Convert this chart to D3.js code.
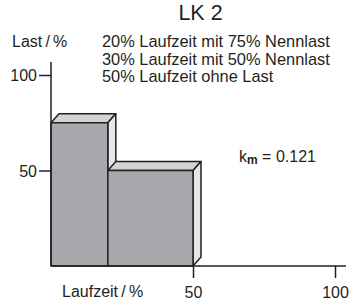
<!DOCTYPE html>
<html lang="de">
    <head>
        <meta charset="utf-8">
        <title>LK 2</title>
        <script src="https://d3js.org/d3.v7.min.js"></script>
        <style type="text/css">
        body { margin: 0; background: #fff; }
        text { font-family: "Liberation Sans", Arial, sans-serif; fill: #231f20; }
        </style>
    </head>
    <body>
        <svg width="349" height="302"></svg>

    <script type="text/javascript">

            // Laufzeit-Anteile (in %) und zugehoerige Last (in % Nennlast)
            const runShares = [20, 30];
            const loads = [75, 50];
            const legendLines = ["20% Laufzeit mit 75% Nennlast",
                                 "30% Laufzeit mit 50% Nennlast",
                                 "50% Laufzeit ohne Last"];
            const xTicks = [50, 100];
            const yTicks = [50, 100];
            const kmValue = "0.121";

            const svg = d3.select("svg");
            const ink = "#231f20";

            const xScale = d3.scaleLinear().domain([0, 100]).range([51, 335]);
            const yScale = d3.scaleLinear().domain([0, 100]).range([266, 75]);

            // cumulative start/end of each block
            let acc = 0;
            const blocks = runShares.map((s, i) => {
                const b = { x0: acc, x1: acc + s, load: loads[i] };
                acc += s;
                return b;
            });

            const dx = 8, dy = -9;

            //Drawing the 3d blocks
            const g = svg.append("g")
                         .attr("stroke", ink)
                         .attr("stroke-width", 1.5)
                         .attr("stroke-linejoin", "round");

            blocks.forEach(b => {
                const l = xScale(b.x0), r = xScale(b.x1);
                const t = yScale(b.load), bt = yScale(0);
                // top face
                g.append("path")
                 .attr("fill", "#d3d4d6")
                 .attr("d", `M${l},${t}L${l + dx},${t + dy}L${r + dx},${t + dy}L${r},${t}Z`);
                // side face
                g.append("path")
                 .attr("fill", "#e5e6e7")
                 .attr("d", `M${r},${t}L${r + dx},${t + dy}L${r + dx},${bt + dy}L${r},${bt}Z`);
                // front face
                g.append("rect")
                 .attr("fill", "#a7a8ab")
                 .attr("x", l)
                 .attr("y", t)
                 .attr("width", r - l)
                 .attr("height", bt - t);
            });

            //Axes
            const bottomAxis = d3.axisBottom(xScale)
                                 .tickValues(xTicks)
                                 .tickSize(12)
                                 .tickSizeOuter(0)
                                 .tickPadding(9);
            const leftAxis = d3.axisLeft(yScale)
                               .tickValues(yTicks)
                               .tickSize(12)
                               .tickSizeOuter(0)
                               .tickPadding(2);

            const xg = svg.append("g")
                          .attr("transform", "translate(0," + yScale(0) + ")")
                          .call(bottomAxis);
            const yg = svg.append("g")
                          .attr("transform", "translate(" + xScale(0) + ",0)")
                          .call(leftAxis);

            [xg, yg].forEach(a => {
                a.select(".domain").remove();
                a.selectAll("line").attr("stroke", ink).attr("stroke-width", 1.5);
                a.selectAll("text")
                 .attr("font-family", "Liberation Sans, Arial, sans-serif")
                 .attr("font-size", 16)
                 .attr("fill", ink);
            });
            yg.selectAll("text").attr("dy", "0.36em");

            svg.append("line")
               .attr("x1", xScale(0)).attr("x2", 346)
               .attr("y1", yScale(0)).attr("y2", yScale(0))
               .attr("stroke", ink).attr("stroke-width", 1.5);
            svg.append("line")
               .attr("x1", xScale(0)).attr("x2", xScale(0))
               .attr("y1", yScale(0)).attr("y2", 62)
               .attr("stroke", ink).attr("stroke-width", 1.5);

            //Title and labels
            svg.append("text")
               .attr("x", 200.5)
               .attr("y", 20)
               .attr("text-anchor", "middle")
               .attr("font-size", 21.5)
               .text("LK 2");

            svg.append("text")
               .attr("x", 12)
               .attr("y", 47)
               .attr("font-size", 16)
               .text("Last\u2009/\u2009%");

            svg.append("text")
               .attr("x", 62)
               .attr("y", 297)
               .attr("font-size", 16)
               .text("Laufzeit\u2009/\u2009%");

            svg.selectAll(".legend")
               .data(legendLines)
               .enter()
               .append("text")
               .attr("class", "legend")
               .attr("x", 102)
               .attr("y", (d, i) => 47 + i * 17.6)
               .attr("font-size", 16.4)
               .text(d => d);

            const km = svg.append("text")
                          .attr("x", 239)
                          .attr("y", 162)
                          .attr("font-size", 16);
            km.append("tspan").text("k");
            km.append("tspan")
              .attr("font-size", 12)
              .attr("font-weight", "bold")
              .attr("dy", 2)
              .text("m");
            km.append("tspan")
              .attr("dy", -2)
              .text(" = " + kmValue);

        </script>
    </body>
</html>
